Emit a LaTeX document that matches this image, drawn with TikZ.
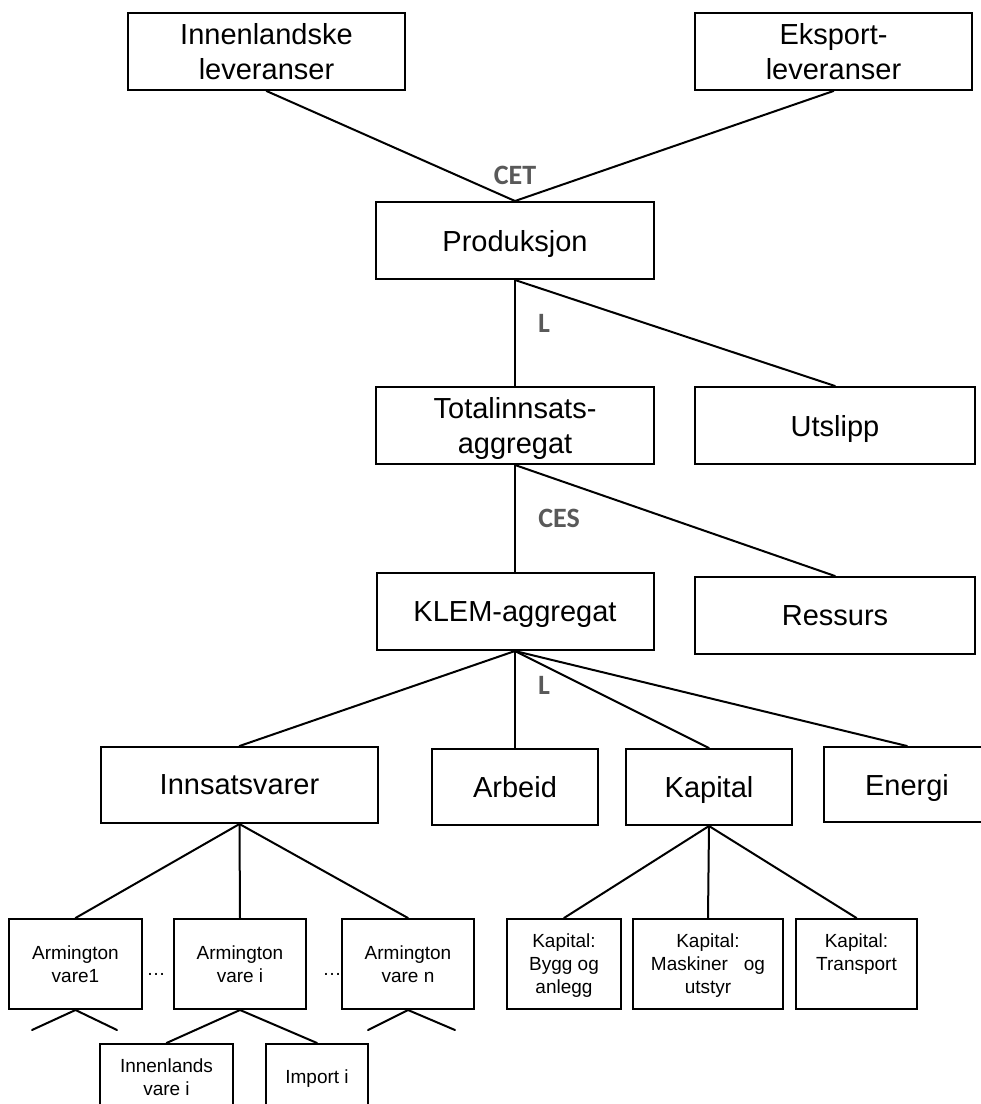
\documentclass[tikz,border=0pt]{standalone}
\usepackage{fontspec}
\setmainfont{Liberation Sans}
\newfontfamily\labelfont{Carlito}
\usetikzlibrary{calc}
\definecolor{lblgray}{HTML}{595959}
% last line of a box label without descender depth, so capitals sit centred
\newcommand{\nodepthline}[1]{\raisebox{0pt}[\height][0pt]{#1}}
\begin{document}
\begin{tikzpicture}[x=1pt,y=-1pt,
  box/.style={draw=black,line width=2pt,inner sep=0pt,align=center,
    font=\fontsize{29}{34.8}\selectfont},
  smallbox/.style={box,font=\fontsize{19}{23}\selectfont},
  conn/.style={line width=2pt,line cap=round},
  elast/.style={text=lblgray,font=\labelfont\bfseries\fontsize{28}{33}\selectfont,inner sep=0pt}]
\useasboundingbox (0,0) rectangle (981,1104);

% top level
\node[box,minimum width=277pt,minimum height=77pt] (inn) at (266.5,51.5) {Innenlandske\\\nodepthline{leveranser}};
\node[box,minimum width=277pt,minimum height=77pt] (eks) at (833.5,51.5) {Eksport-\\\nodepthline{leveranser}};
\node[box,minimum width=278pt,minimum height=77pt] (prod) at (515,240.5) {\nodepthline{Produksjon}};
\node[box,minimum width=278pt,minimum height=77pt] (tot) at (515,425.5) {Totalinnsats-\\\nodepthline{aggregat}};
\node[box,minimum width=280pt,minimum height=77pt] (uts) at (835,425.5) {\nodepthline{Utslipp}};
\node[box,minimum width=277pt,minimum height=77pt] (klem) at (515,611.5) {\nodepthline{KLEM-aggregat}};
\node[box,minimum width=280pt,minimum height=77pt] (res) at (835,615.5) {\nodepthline{Ressurs}};

% KLEM components
\node[box,minimum width=277pt,minimum height=76pt] (innsats) at (239.5,785) {\nodepthline{Innsatsvarer}};
\node[box,minimum width=166pt,minimum height=76pt] (arb) at (515,787) {\nodepthline{Arbeid}};
\node[box,minimum width=166pt,minimum height=76pt] (kap) at (709,787) {\nodepthline{Kapital}};
\node[box,minimum width=166pt,minimum height=75pt] (ene) at (907,784.5) {\nodepthline{Energi}};

% Armington goods
\node[smallbox,minimum width=133pt,minimum height=90pt] (arm1) at (75.5,964) {Armington\\\nodepthline{vare1}};
\node[smallbox,minimum width=132pt,minimum height=90pt] (arm2) at (240,964) {Armington\\\nodepthline{vare i}};
\node[smallbox,minimum width=132pt,minimum height=90pt] (arm3) at (408,964) {Armington\\\nodepthline{vare n}};
\node[smallbox,minimum width=133pt,minimum height=66pt] (innl) at (166.5,1077) {Innenlands\\\nodepthline{vare i}};
\node[smallbox,minimum width=102pt,minimum height=66pt] (imp) at (317,1077) {\nodepthline{Import i}};

% capital types (text set from the top of the box)
\node[smallbox,minimum width=114pt,minimum height=90pt] (kb1) at (564,964) {Kapital:\\Bygg og\\\nodepthline{anlegg}};
\node[smallbox,minimum width=150pt,minimum height=90pt] (kb2) at (708,964) {Kapital:\\Maskiner\ \ \ og\\\nodepthline{utstyr}};
\node[smallbox,minimum width=121pt,minimum height=90pt] (kb3) at (856.5,964) {Kapital:\\Transport\\\mbox{}};

% dots between Armington boxes
\node[anchor=base,inner sep=0pt,font=\fontsize{19}{23}\selectfont] (dots1) at (156,975) {…};
\node[anchor=base,inner sep=0pt,font=\fontsize{19}{23}\selectfont] (dots2) at (332,975) {…};

% loose leg ends
\coordinate (l1a) at (32,1030);
\coordinate (l1b) at (117,1030);
\coordinate (l3a) at (368,1030);
\coordinate (l3b) at (455,1030);

% connectors
\draw[conn] (inn.south) -- (prod.north);
\draw[conn] (eks.south) -- (prod.north);
\draw[conn] (prod.south) -- (tot.north);
\draw[conn] (prod.south) -- (uts.north);
\draw[conn] (tot.south) -- (klem.north);
\draw[conn] (tot.south) -- (res.north);
\draw[conn] (klem.south) -- (innsats.north);
\draw[conn] (klem.south) -- (arb.north);
\draw[conn] (klem.south) -- (kap.north);
\draw[conn] (klem.south) -- (ene.north);
\draw[conn] (innsats.south) -- (arm1.north);
\draw[conn] (innsats.south) -- (arm2.north);
\draw[conn] (innsats.south) -- (arm3.north);
\draw[conn] (kap.south) -- (kb1.north);
\draw[conn] (kap.south) -- (kb2.north);
\draw[conn] (kap.south) -- (kb3.north);
\draw[conn] (arm1.south) -- (l1a);
\draw[conn] (arm1.south) -- (l1b);
\draw[conn] (arm3.south) -- (l3a);
\draw[conn] (arm3.south) -- (l3b);
\draw[conn] (arm2.south) -- (innl.north);
\draw[conn] (arm2.south) -- (imp.north);

% elasticity labels
\node[elast] (cet) at (515,175) {CET};
\node[elast] (l1) at (544,323) {L};
\node[elast] (ces) at (559,518) {CES};
\node[elast] (l2) at (544,685) {L};
\end{tikzpicture}
\end{document}
